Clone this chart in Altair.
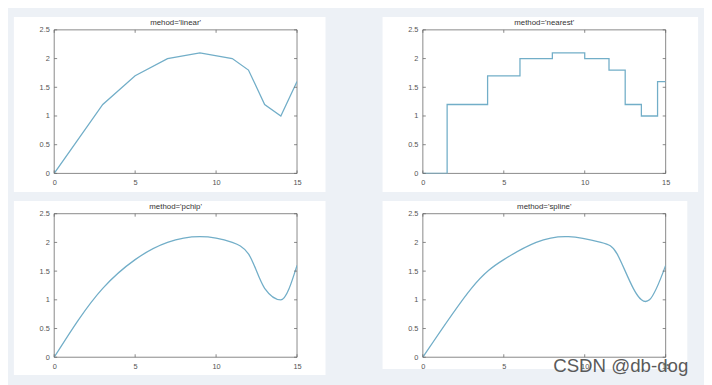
import altair as alt
import pandas as pd

# Interpolation sample points
xs = [0, 3, 5, 7, 9, 11, 12, 13, 14, 15]
ys = [0, 1.2, 1.7, 2.0, 2.1, 2.0, 1.8, 1.2, 1.0, 1.6]

x_ticks = [0, 5, 10, 15]
y_ticks = [0, 0.5, 1, 1.5, 2, 2.5]

titles = ["mehod='linear'", "method='nearest'", "method='pchip'", "method='spline'"]
interps = ["linear", "step", "monotone", "natural"]
watermark = "CSDN @db-dog"

W, H = 247, 146
LINE = "#72aec8"
FRAME = "#6a6a6a"
FONT = "Liberation Sans"

XAX = alt.Axis(values=x_ticks, grid=False, ticks=False, domain=False,
               labelFontSize=7.5, labelColor="#555", labelPadding=5,
               labelFlush=False, labelFont=FONT, format="~g", zindex=2)
YAX = alt.Axis(values=y_ticks, grid=False, ticks=False, domain=False,
               labelFontSize=7.5, labelColor="#555", labelPadding=5,
               labelFlush=False, labelFont=FONT, format="~g", zindex=2)


def panel(title, interp, right_ext=29, bottom_ext=19, mark=None):
    pts = pd.DataFrame({"x": xs, "y": ys})
    one = pd.DataFrame({"t": [title]})
    xsc = alt.Scale(domain=[0, 15], nice=False)
    ysc = alt.Scale(domain=[0, 2.5], nice=False)

    bg = alt.Chart(one).mark_rect(color="white").encode(
        x=alt.value(-41), x2=alt.value(W + right_ext),
        y=alt.value(-13), y2=alt.value(H + bottom_ext))
    frame = alt.Chart(one).mark_rect(fillOpacity=0, stroke=FRAME, strokeWidth=0.8).encode(
        x=alt.value(0), x2=alt.value(W), y=alt.value(0), y2=alt.value(H))

    line = alt.Chart(pts).mark_line(interpolate=interp, color=LINE, strokeWidth=1.3, clip=True).encode(
        x=alt.X("x:Q", scale=xsc, title=None, axis=XAX),
        y=alt.Y("y:Q", scale=ysc, title=None, axis=YAX))

    xtk = pd.DataFrame({"xt": x_ticks})
    ytk = pd.DataFrame({"yt": y_ticks})
    xb = alt.Chart(xtk).mark_rule(color=FRAME, strokeWidth=0.8).encode(
        x=alt.X("xt:Q", scale=xsc, title=None, axis=XAX), y=alt.value(H), y2=alt.value(H - 3))
    xt = alt.Chart(xtk).mark_rule(color=FRAME, strokeWidth=0.8).encode(
        x=alt.X("xt:Q", scale=xsc, title=None, axis=XAX), y=alt.value(0), y2=alt.value(3))
    yl = alt.Chart(ytk).mark_rule(color=FRAME, strokeWidth=0.8).encode(
        y=alt.Y("yt:Q", scale=ysc, title=None, axis=YAX), x=alt.value(0), x2=alt.value(3))
    yr = alt.Chart(ytk).mark_rule(color=FRAME, strokeWidth=0.8).encode(
        y=alt.Y("yt:Q", scale=ysc, title=None, axis=YAX), x=alt.value(W), x2=alt.value(W - 3))

    ttl = alt.Chart(one).mark_text(fontSize=8, color="#333", baseline="bottom", font=FONT).encode(
        x=alt.value(W / 2), y=alt.value(-3), text="t:N")

    layers = [bg, frame, line, xb, xt, yl, yr, ttl]
    if mark:
        wm = alt.Chart(pd.DataFrame({"w": [mark]})).mark_text(
            fontSize=19, color="#5a5a5a", align="right", baseline="alphabetic", font=FONT).encode(
            x=alt.value(W + 23), y=alt.value(H + 15), text="w:N")
        layers.append(wm)
    return alt.layer(*layers).properties(width=W, height=H)


p1 = panel(titles[0], interps[0])
p2 = panel(titles[1], interps[1], right_ext=33)
p3 = panel(titles[2], interps[2], bottom_ext=18)
p4 = panel(titles[3], interps[3], right_ext=22, bottom_ext=12, mark=watermark)

top = alt.hconcat(p1, p2, spacing=56)
bottom = alt.hconcat(p3, p4, spacing=56)
chart = alt.vconcat(top, bottom, spacing=7).configure(
    background="#edf1f6", padding=5
).configure_view(stroke="transparent")

chart.save("out.html", embed_options={"renderer": "svg", "actions": False})
